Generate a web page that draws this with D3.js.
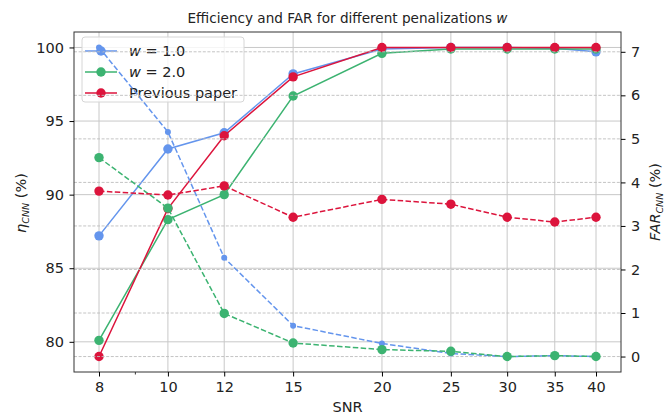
<!DOCTYPE html>
<html><head><meta charset="utf-8">
<script src="https://cdn.jsdelivr.net/npm/d3@7"></script>
<style>body{margin:0;background:#fff}svg{display:block}text{font-family:"DejaVu Sans",sans-serif}</style>
</head><body><svg id="c" width="672" height="416"></svg>
<script>
const snr = [8, 10, 12, 15, 20, 25, 30, 35, 40];
const effW1 = [87.2, 93.1, 94.2, 98.2, 99.9, 100.0, 100.0, 99.95, 99.7];
const effW2 = [80.1, 88.3, 90.0, 96.7, 99.6, 99.9, 99.9, 99.9, 99.9];
const effPrev = [79.0, 89.05, 94.0, 98.0, 100.0, 100.0, 100.0, 100.0, 100.0];
const farW1 = [7.1, 5.16, 2.27, 0.71, 0.30, 0.07, 0.0, 0.02, 0.0];
const farW2 = [4.57, 3.41, 0.99, 0.31, 0.16, 0.12, 0.0, 0.02, 0.0];
const farPrev = [3.80, 3.71, 3.92, 3.20, 3.61, 3.50, 3.20, 3.09, 3.20];
const leftTicks = [80, 85, 90, 95, 100];
const rightTicks = [0, 1, 2, 3, 4, 5, 6, 7];
const minorX = [9];
const seriesNames = ["w = 1.0", "w = 2.0", "Previous paper"];
const colors = ["#6495ED", "#3CB371", "#DC143C"];

const svg = d3.select("#c");
const L = 74, R = 621, T = 32, B = 372;
const FS = 14.5;
const x = d3.scaleLog().domain([8, 40]).range([99, 596]);
function padDomain(arrs){const all=arrs.flat();const mn=d3.min(all),mx=d3.max(all);const p=(mx-mn)*0.05;return [mn-p,mx+p];}
const yL = d3.scaleLinear().domain(padDomain([effW1,effW2,effPrev])).range([B, T]);
const yR = d3.scaleLinear().domain(padDomain([farW1,farW2,farPrev])).range([B, T]);

// vertical grid
svg.append("g").selectAll("line").data(snr).join("line")
  .attr("x1",d=>x(d)).attr("x2",d=>x(d)).attr("y1",T).attr("y2",B)
  .attr("stroke","#c8c8c8").attr("stroke-width",1);
// left horizontal grid
svg.append("g").selectAll("line").data(leftTicks).join("line")
  .attr("x1",L).attr("x2",R).attr("y1",d=>yL(d)).attr("y2",d=>yL(d))
  .attr("stroke","#c8c8c8").attr("stroke-width",1);

function drawSeries(vals, scale, color, dashed, r){
  const line = d3.line().x((d,i)=>x(snr[i])).y(d=>scale(d));
  svg.append("path").datum(vals).attr("d",line).attr("fill","none")
    .attr("stroke",color).attr("stroke-width",1.5)
    .attr("stroke-dasharray",dashed?"5.5,2.4":null);
  svg.append("g").selectAll("circle").data(vals).join("circle")
    .attr("cx",(d,i)=>x(snr[i])).attr("cy",d=>scale(d)).attr("r",r).attr("fill",color);
}
drawSeries(effW1, yL, colors[0], false, 4.7);
drawSeries(effW2, yL, colors[1], false, 4.7);
drawSeries(effPrev, yL, colors[2], false, 4.7);

// legend
const lg = svg.append("g");
lg.append("rect").attr("x",82).attr("y",37).attr("width",162).attr("height",65).attr("rx",3)
  .attr("fill","#fff").attr("fill-opacity",0.8).attr("stroke","#d6d6d6").attr("stroke-width",1);
const rowsY = [51, 72, 93];
seriesNames.forEach((n,i)=>{
  lg.append("line").attr("x1",85).attr("x2",117).attr("y1",rowsY[i]).attr("y2",rowsY[i])
    .attr("stroke",colors[i]).attr("stroke-width",1.5);
  lg.append("circle").attr("cx",101).attr("cy",rowsY[i]).attr("r",4.7).attr("fill",colors[i]);
  const t = lg.append("text").attr("x",129).attr("y",rowsY[i]+5).attr("font-size",FS).attr("fill","#222");
  if(i<2){
    const parts = n.split(" = ");
    t.append("tspan").attr("font-style","italic").text(parts[0]);
    t.append("tspan").text(" = "+parts[1]);
  } else t.text(n);
});

// right dashed grid
svg.append("g").selectAll("line").data(rightTicks).join("line")
  .attr("x1",L).attr("x2",R).attr("y1",d=>yR(d)).attr("y2",d=>yR(d))
  .attr("stroke","#bdbdbd").attr("stroke-width",0.9).attr("stroke-dasharray","3,1.6");

drawSeries(farW1, yR, colors[0], true, 3);
drawSeries(farW2, yR, colors[1], true, 4.7);
drawSeries(farPrev, yR, colors[2], true, 4.7);

// frame
svg.append("rect").attr("x",L).attr("y",T).attr("width",R-L).attr("height",B-T)
  .attr("fill","none").attr("stroke","#333").attr("stroke-width",1);

// axes
const ax = d3.axisBottom(x).tickValues(snr).tickFormat(d3.format("d")).tickSize(4.5).tickPadding(5.5);
const gx = svg.append("g").attr("transform",`translate(0,${B})`).call(ax);
gx.select(".domain").remove();
gx.selectAll("text").attr("font-size",FS).attr("fill","#222").attr("font-family","DejaVu Sans");
svg.append("g").selectAll("line").data(minorX).join("line")
  .attr("x1",d=>x(d)).attr("x2",d=>x(d)).attr("y1",B).attr("y2",B+2.5).attr("stroke","#333");

const al = d3.axisLeft(yL).tickValues(leftTicks).tickSize(4.5).tickPadding(5.5);
const gl = svg.append("g").attr("transform",`translate(${L},0)`).call(al);
gl.select(".domain").remove();
gl.selectAll("text").attr("font-size",FS).attr("fill","#222").attr("font-family","DejaVu Sans");

const ar = d3.axisRight(yR).tickValues(rightTicks).tickSize(4.5).tickPadding(5.5);
const gr = svg.append("g").attr("transform",`translate(${R},0)`).call(ar);
gr.select(".domain").remove();
gr.selectAll("text").attr("font-size",FS).attr("fill","#222").attr("font-family","DejaVu Sans");

// title
const tt = svg.append("text").attr("x",(L+R)/2).attr("y",23).attr("text-anchor","middle").attr("font-size",13.6).attr("fill","#222");
tt.append("tspan").text("Efficiency and FAR for different penalizations ");
tt.append("tspan").attr("font-style","italic").text("w");

svg.append("text").attr("x",(L+R)/2).attr("y",412).attr("text-anchor","middle").attr("font-size",FS).attr("fill","#222").text("SNR");

const yl = svg.append("text").attr("transform",`translate(26,${(T+B)/2+1}) rotate(-90)`).attr("text-anchor","middle").attr("font-size",FS).attr("fill","#222");
yl.append("tspan").attr("font-style","italic").text("η");
yl.append("tspan").attr("font-style","italic").attr("font-size",9.5).attr("dy",3).text("CNN");
yl.append("tspan").attr("dy",-3).text(" (%)");

const yr = svg.append("text").attr("transform",`translate(660,${(T+B)/2}) rotate(-90)`).attr("text-anchor","middle").attr("font-size",FS).attr("fill","#222");
yr.append("tspan").attr("font-style","italic").text("FAR");
yr.append("tspan").attr("font-style","italic").attr("font-size",9.5).attr("dy",3).text("CNN");
yr.append("tspan").attr("dy",-3).text(" (%)");
</script></body></html>
